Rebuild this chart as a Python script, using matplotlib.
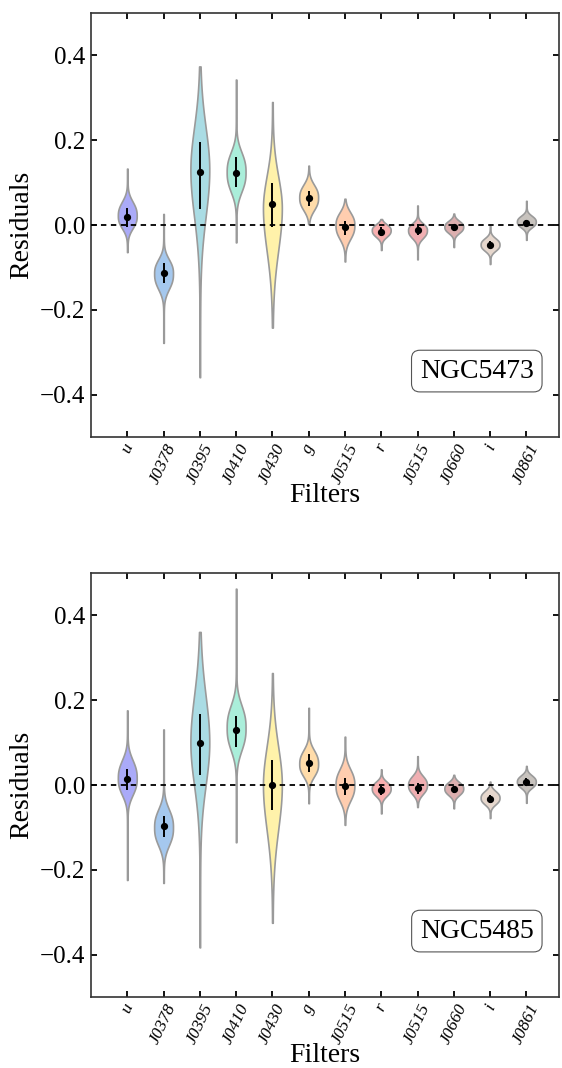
import numpy as np
import matplotlib
matplotlib.use("Agg")
import matplotlib.pyplot as plt

plt.rcParams['font.family'] = ['Liberation Serif', 'DejaVu Serif']

filters = ['u', 'J0378', 'J0395', 'J0410', 'J0430', 'g', 'J0515', 'r', 'J0515', 'J0660', 'i', 'J0861']
colors = ['#aaaaf8', '#a5c8ee', '#aadce4', '#aaeeda', '#fff2aa', '#ffdcaa',
          '#ffcdaf', '#f8afaf', '#f0afb2', '#dcafaf', '#e6d7cd', '#c8c3be']
# shape exponent of each violin body profile
shape_p = [2.5, 2.5, 2.0, 2.5, 2.0, 2.5, 2.5, 2.5, 2.5, 2.5, 2.5, 2.5]

# ---- NGC5473 ----
g1_name = 'NGC5473'
g1_median = [0.020, -0.114, 0.125, 0.123, 0.049, 0.064, -0.004, -0.016, -0.012, -0.005, -0.046, 0.0055]
g1_err_lo = [-0.004, -0.137, 0.037, 0.089, -0.004, 0.045, -0.024, -0.027, -0.024, -0.013, -0.055, -0.002]
g1_err_hi = [0.039, -0.090, 0.196, 0.160, 0.098, 0.081, 0.010, -0.004, 0.002, 0.002, -0.037, 0.012]
g1_min = [-0.064, -0.278, -0.359, -0.041, -0.242, 0.002, -0.086, -0.059, -0.081, -0.052, -0.092, -0.035]
g1_max = [0.133, 0.026, 0.374, 0.343, 0.290, 0.140, 0.062, 0.014, 0.046, 0.027, -0.002, 0.057]
g1_mode = [0.022, -0.114, 0.13, 0.125, 0.04, 0.065, 0.0, -0.012, -0.012, -0.004, -0.046, 0.008]
g1_s_lo = [0.028, 0.035, 0.11, 0.044, 0.10, 0.028, 0.031, 0.015, 0.018, 0.014, 0.014, 0.013]
g1_s_hi = [0.031, 0.031, 0.10, 0.044, 0.075, 0.028, 0.028, 0.013, 0.015, 0.013, 0.014, 0.013]

# ---- NGC5485 ----
g2_name = 'NGC5485'
g2_median = [0.013, -0.097, 0.100, 0.129, 0.0, 0.051, -0.002, -0.012, -0.006, -0.010, -0.033, 0.008]
g2_err_lo = [-0.012, -0.123, 0.0235, 0.089, -0.059, 0.031, -0.024, -0.024, -0.021, -0.018, -0.043, -0.002]
g2_err_hi = [0.038, -0.072, 0.167, 0.162, 0.059, 0.072, 0.016, -0.002, 0.005, -0.002, -0.024, 0.016]
g2_min = [-0.224, -0.231, -0.383, -0.135, -0.325, -0.043, -0.094, -0.067, -0.052, -0.055, -0.078, -0.042]
g2_max = [0.176, 0.131, 0.361, 0.463, 0.264, 0.182, 0.114, 0.037, 0.068, 0.024, 0.008, 0.045]
g2_mode = [0.016, -0.10, 0.10, 0.135, 0.0, 0.05, 0.0, -0.008, 0.0, -0.008, -0.030, 0.008]
g2_s_lo = [0.037, 0.04, 0.10, 0.05, 0.105, 0.028, 0.035, 0.017, 0.02, 0.015, 0.015, 0.014]
g2_s_hi = [0.04, 0.04, 0.11, 0.05, 0.09, 0.03, 0.035, 0.015, 0.02, 0.014, 0.015, 0.014]

tail_floor = 0.03


def make_stats(vmin, vmax, mode, s_lo, s_hi, med):
    stats = []
    for a, b, m, sl, sh, md, p in zip(vmin, vmax, mode, s_lo, s_hi, med, shape_p):
        y = np.linspace(a, b, 400)
        s = np.where(y < m, sl, sh)
        v = np.exp(-0.5 * np.abs((y - m) / s) ** p) + tail_floor
        stats.append(dict(coords=y, vals=v, mean=md, median=md, min=a, max=b))
    return stats


fig = plt.figure(figsize=(5.62, 10.68), dpi=100)
ax_top = fig.add_axes([91 / 562, 1 - 437 / 1068, 468 / 562, 424 / 1068])
ax_bot = fig.add_axes([91 / 562, 1 - 997 / 1068, 468 / 562, 424 / 1068])

panels = [
    (ax_top, g1_name, g1_median, g1_err_lo, g1_err_hi, g1_min, g1_max, g1_mode, g1_s_lo, g1_s_hi),
    (ax_bot, g2_name, g2_median, g2_err_lo, g2_err_hi, g2_min, g2_max, g2_mode, g2_s_lo, g2_s_hi),
]

pos = np.arange(len(filters))
for ax, name, med, elo, ehi, vmin, vmax, mode, sl, sh in panels:
    st = make_stats(vmin, vmax, mode, sl, sh, med)
    parts = ax.violin(st, positions=pos, widths=0.52, showmeans=False,
                      showextrema=False, showmedians=False)
    for body, c in zip(parts['bodies'], colors):
        body.set_facecolor(c)
        body.set_edgecolor('#9a9a9a')
        body.set_linewidth(1.2)
        body.set_alpha(1.0)
        body.set_zorder(1)
    ax.axhline(0.0, color='black', ls=(0, (3, 2.5)), lw=1.3, zorder=3)
    med = np.array(med)
    ax.errorbar(pos, med, yerr=[med - np.array(elo), np.array(ehi) - med],
                fmt='o', color='black', ms=4.2, elinewidth=1.4, capsize=0, zorder=4)
    ax.set_xlim(-1, 11.9)
    ax.set_ylim(-0.5, 0.5)
    ax.set_yticks([-0.4, -0.2, 0.0, 0.2, 0.4])
    ax.set_yticklabels(['\u22120.4', '\u22120.2', '0.0', '0.2', '0.4'])
    ax.set_xticks(pos)
    ax.set_xticklabels(filters, rotation=65, fontsize=12.5, style='italic')
    ax.tick_params(axis='both', direction='in', top=True, right=True,
                   length=4, width=1.3)
    ax.tick_params(axis='y', labelsize=18, pad=4)
    ax.tick_params(axis='x', pad=3)
    for sp in ax.spines.values():
        sp.set_linewidth(1.2)
        sp.set_color('#333333')
    ax.set_ylabel('Residuals', fontsize=20, labelpad=4)
    ax.set_xlabel('Filters', fontsize=20, labelpad=-3)
    ax.text(0.946, 0.126, name, transform=ax.transAxes, ha='right', va='bottom',
            fontsize=20, zorder=5,
            bbox=dict(boxstyle='round,pad=0.3', facecolor='white', edgecolor='#555555', lw=0.8))

fig.savefig('out.png', dpi=100)
